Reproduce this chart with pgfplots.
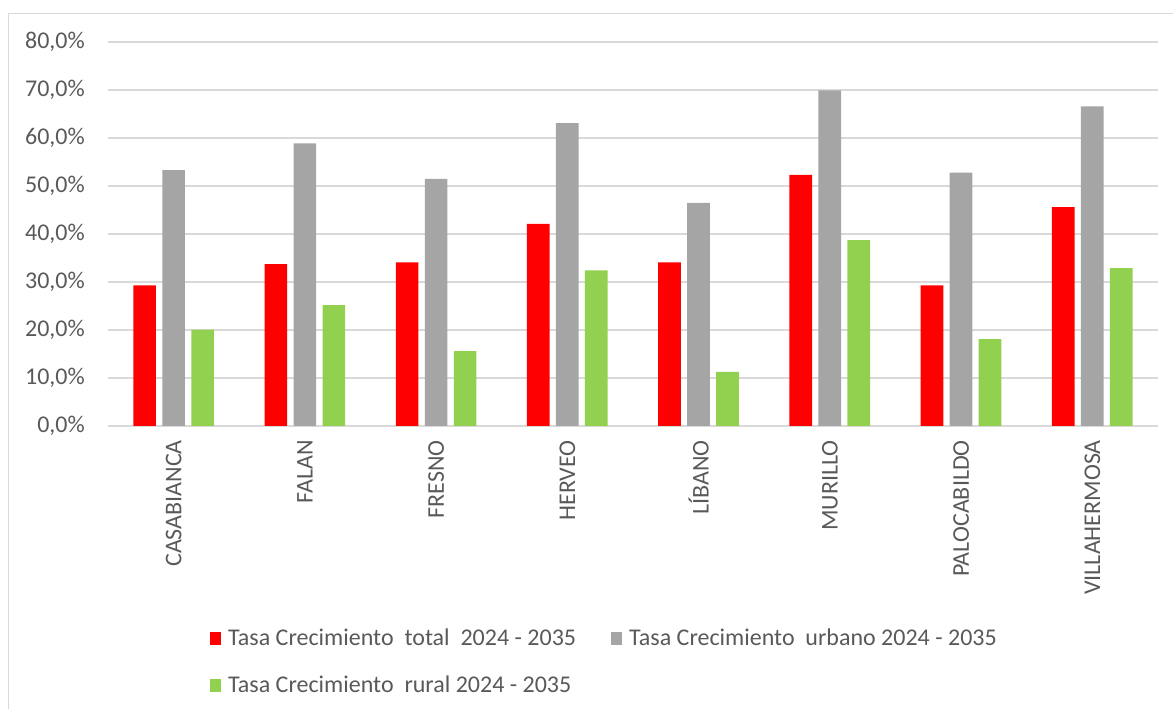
\documentclass[border=0pt]{standalone}
\usepackage{pgfplots}
\pgfplotsset{compat=1.18}
\usepackage{fontspec}
\setmainfont{Carlito}
\definecolor{cred}{HTML}{FF0000}
\definecolor{cgray}{HTML}{A5A5A5}
\definecolor{cgreen}{HTML}{92D050}
\definecolor{gridc}{HTML}{D9D9D9}
\definecolor{txt}{HTML}{595959}
\begin{document}
\begin{tikzpicture}
\useasboundingbox (0,0) rectangle (1173pt,709pt);
\draw[gridc, line width=1.3pt] (8.5pt,-10pt) -- (8.5pt,695.5pt) -- (1180pt,695.5pt);
\begin{axis}[
  at={(108pt,283pt)}, anchor=south west, scale only axis,
  width=1050pt, height=384pt,
  ybar=6.3pt, bar width=22.7pt,
  xmin=-0.5, xmax=7.5, ymin=0, ymax=80,
  xtick={0,...,7},
  xticklabels={CASABIANCA,FALAN,FRESNO,HERVEO,LÍBANO,MURILLO,PALOCABILDO,VILLAHERMOSA},
  ytick={0,10,...,80},
  yticklabels={{0,0\%},{10,0\%},{20,0\%},{30,0\%},{40,0\%},{50,0\%},{60,0\%},{70,0\%},{80,0\%}},
  ymajorgrids, grid style={gridc, line width=1.3pt},
  axis line style={draw=none},
  major tick length=0pt,
  tick label style={font=\fontsize{24}{28}\selectfont, text=txt},
  xticklabel style={rotate=90, anchor=east, inner sep=0pt},
  xticklabel shift=14pt,
  yticklabel style={anchor=east, inner sep=0pt},
  yticklabel shift=23pt,
  legend columns=2,
  legend style={at={(0.0971,-0.523)}, anchor=north west, draw=none, fill=none,
    font=\fontsize{24}{28}\selectfont, text=txt, inner sep=0pt, row sep=25pt,
    /tikz/every even column/.append style={column sep=33pt},
    /tikz/every odd column/.append style={column sep=5pt},
    cells={anchor=west}},
  legend image code/.code={\fill[#1] (0pt,-6.5pt) rectangle (11pt,6.5pt);},
]
\addplot[fill=cred, draw=none] coordinates {(0,29.3) (1,33.7) (2,34.1) (3,42.1) (4,34.1) (5,52.3) (6,29.3) (7,45.6)};
\addplot[fill=cgray, draw=none] coordinates {(0,53.3) (1,58.9) (2,51.5) (3,63.1) (4,46.5) (5,69.9) (6,52.8) (7,66.6)};
\addplot[fill=cgreen, draw=none] coordinates {(0,20.1) (1,25.2) (2,15.6) (3,32.4) (4,11.3) (5,38.7) (6,18.1) (7,32.9)};
\legend{Tasa Crecimiento\ \ total\ \ 2024 - 2035, Tasa Crecimiento\ \ urbano 2024 - 2035, Tasa Crecimiento\ \ rural 2024 - 2035}
\end{axis}
\end{tikzpicture}
\end{document}
